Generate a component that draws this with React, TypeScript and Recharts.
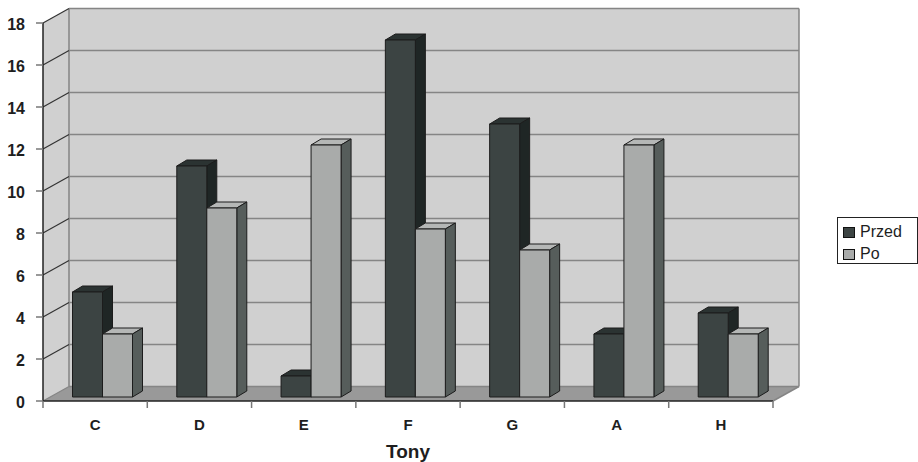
import React from 'react';
import { Bar, BarChart, CartesianGrid, Legend, XAxis, YAxis } from 'recharts';

const categories = ['C', 'D', 'E', 'F', 'G', 'A', 'H'];
const przed = [5, 11, 1, 17, 13, 3, 4];
const po = [3, 9, 12, 8, 7, 12, 3];
const yTicks = [0, 2, 4, 6, 8, 10, 12, 14, 16, 18];
const seriesOrder = ['Przed', 'Po'];

const data = categories.map((tone, i) => ({ tone, przed: przed[i], po: po[i] }));

const FONT = '"Liberation Sans", Arial, Helvetica, sans-serif';

// depth of the back wall behind the front axis plane
const WALL_DX = 26;
const WALL_DY = 14.5;
// columns sit a little behind the front plane and have their own depth
const COL_SHIFT_X = 7.5;
const COL_SHIFT_Y = 4;
const COL_DX = 10;
const COL_DY = 6;

const GRID = '#858585';
const OUTLINE = '#1c1c1c';

const column = (front: string, side: string, top: string) => (props: any) => {
  const { x, y, width, height } = props;
  if (x == null || y == null || !width || height == null) return <g />;
  const fx = x + COL_SHIFT_X;
  const fy = y - COL_SHIFT_Y;
  const r = fx + width;
  const b = fy + height;
  return (
    <g strokeLinejoin="round">
      <polygon
        points={`${fx},${fy} ${fx + COL_DX},${fy - COL_DY} ${r + COL_DX},${fy - COL_DY} ${r},${fy}`}
        fill={top}
        stroke={OUTLINE}
      />
      <polygon
        points={`${r},${fy} ${r + COL_DX},${fy - COL_DY} ${r + COL_DX},${b - COL_DY} ${r},${b}`}
        fill={side}
        stroke={OUTLINE}
      />
      <rect x={fx} y={fy} width={width} height={height} fill={front} stroke={OUTLINE} />
    </g>
  );
};

// back wall, side wall and floor are drawn with the first grid line,
// every grid line then runs along the side wall and across the back wall
const wallLine = (props: any) => {
  const { x1, x2, y1, index, y, height, horizontalPoints } = props;
  const pts: number[] =
    y != null && height != null ? [y, y + height] : horizontalPoints || [y1];
  const top = Math.min(...pts);
  const bottom = Math.max(...pts);
  const bx1 = x1 + WALL_DX;
  const bx2 = x2 + WALL_DX;
  const by = y1 - WALL_DY;
  return (
    <g key={`wall-${index}`}>
      {index === 0 && (
        <g>
          <polygon
            fill="#d0d0d0"
            points={`${x1},${bottom} ${x1},${top} ${bx1},${top - WALL_DY} ${bx2},${top - WALL_DY} ${bx2},${bottom - WALL_DY} ${x2},${bottom}`}
          />
          <line x1={bx1} y1={top - WALL_DY} x2={bx1} y2={bottom - WALL_DY} stroke={GRID} strokeWidth={1.5} />
          <line x1={bx2} y1={top - WALL_DY} x2={bx2} y2={bottom - WALL_DY} stroke={GRID} strokeWidth={1.5} />
          <polygon
            fill="#999999"
            points={`${x1},${bottom} ${bx1},${bottom - WALL_DY} ${bx2},${bottom - WALL_DY} ${x2},${bottom}`}
          />
          <line x1={x2} y1={bottom} x2={bx2} y2={bottom - WALL_DY} stroke={GRID} strokeWidth={1.5} />
        </g>
      )}
      <line x1={x1} y1={y1} x2={bx1} y2={by} stroke={index === 0 ? GRID : '#333'} strokeWidth={1.2} />
      <line x1={bx1} y1={by} x2={bx2} y2={by} stroke={GRID} strokeWidth={1.5} />
    </g>
  );
};

const YTick = (props: any) => {
  const { x, y, payload } = props;
  return (
    <g>
      <line x1={x - 7} y1={y} x2={x} y2={y} stroke="#777" strokeWidth={1.5} />
      <text
        x={x - 18}
        y={y + 6.5}
        textAnchor="end"
        fontFamily={FONT}
        fontSize={16}
        fontWeight="bold"
        fill="#1e1e1e"
      >
        {payload.value}
      </text>
    </g>
  );
};

const XTick = (props: any) => {
  const { x, y, payload, index, visibleTicksCount } = props;
  const half = payload.offset || 52;
  return (
    <g>
      <line x1={x - half} y1={y} x2={x - half} y2={y + 7} stroke="#777" strokeWidth={1.5} />
      {index === visibleTicksCount - 1 && (
        <line x1={x + half} y1={y} x2={x + half} y2={y + 7} stroke="#777" strokeWidth={1.5} />
      )}
      <text x={x} y={y + 29} textAnchor="middle" fontFamily={FONT} fontSize={15} fontWeight="bold" fill="#1e1e1e">
        {payload.value}
      </text>
    </g>
  );
};

const LegendBox = (props: any) => {
  const items = [...(props.payload || [])].sort(
    (a: any, b: any) => seriesOrder.indexOf(a.value) - seriesOrder.indexOf(b.value)
  );
  return (
    <svg width={81} height={47} style={{ display: 'block' }}>
      <rect x={0.5} y={0.5} width={80} height={46} fill="#fff" stroke="#222" />
      {items.map((item: any, i: number) => (
        <g key={item.value}>
          <rect x={6.5} y={10.5 + i * 22} width={11} height={10} fill={item.color} stroke="#111" />
          <text x={23} y={19.5 + i * 22} fontFamily={FONT} fontSize={16} fill="#1e1e1e">
            {item.value}
          </text>
        </g>
      ))}
    </svg>
  );
};

export default function App() {
  return (
    <div style={{ position: 'absolute', left: 0, top: 0, background: '#fff' }}>
      <BarChart
        width={918}
        height={462}
        data={data}
        margin={{ top: 23, right: 145, bottom: 4, left: 7 }}
        barSize={30}
        barGap={0}
      >
        <CartesianGrid vertical={false} horizontal={wallLine} />
        <XAxis
          dataKey="tone"
          height={57}
          interval={0}
          tick={XTick}
          tickLine={false}
          tickSize={0}
          tickMargin={0}
          axisLine={{ stroke: '#222', strokeWidth: 1.5 }}
          label={{
            value: 'Tony',
            position: 'insideBottom',
            offset: 0,
            style: { fontFamily: FONT, fontSize: 19, fontWeight: 'bold', fill: '#1e1e1e' },
          }}
        />
        <YAxis
          width={36}
          domain={[0, 18]}
          ticks={yTicks}
          interval={0}
          tick={YTick}
          tickLine={false}
          tickSize={0}
          tickMargin={0}
          axisLine={{ stroke: '#222', strokeWidth: 1.5 }}
        />
        <Legend
          layout="vertical"
          align="center"
          verticalAlign="middle"
          content={LegendBox}
          wrapperStyle={{ position: 'absolute', left: 837, top: 217, width: 81, height: 47 }}
        />
        <Bar
          dataKey="przed"
          name="Przed"
          fill="#3c4443"
          shape={column('#3c4443', '#1f2625', '#2b3332')}
          isAnimationActive={false}
        />
        <Bar
          dataKey="po"
          name="Po"
          fill="#a9abaa"
          shape={column('#a9abaa', '#565d5b', '#b5b7b6')}
          isAnimationActive={false}
        />
      </BarChart>
    </div>
  );
}
